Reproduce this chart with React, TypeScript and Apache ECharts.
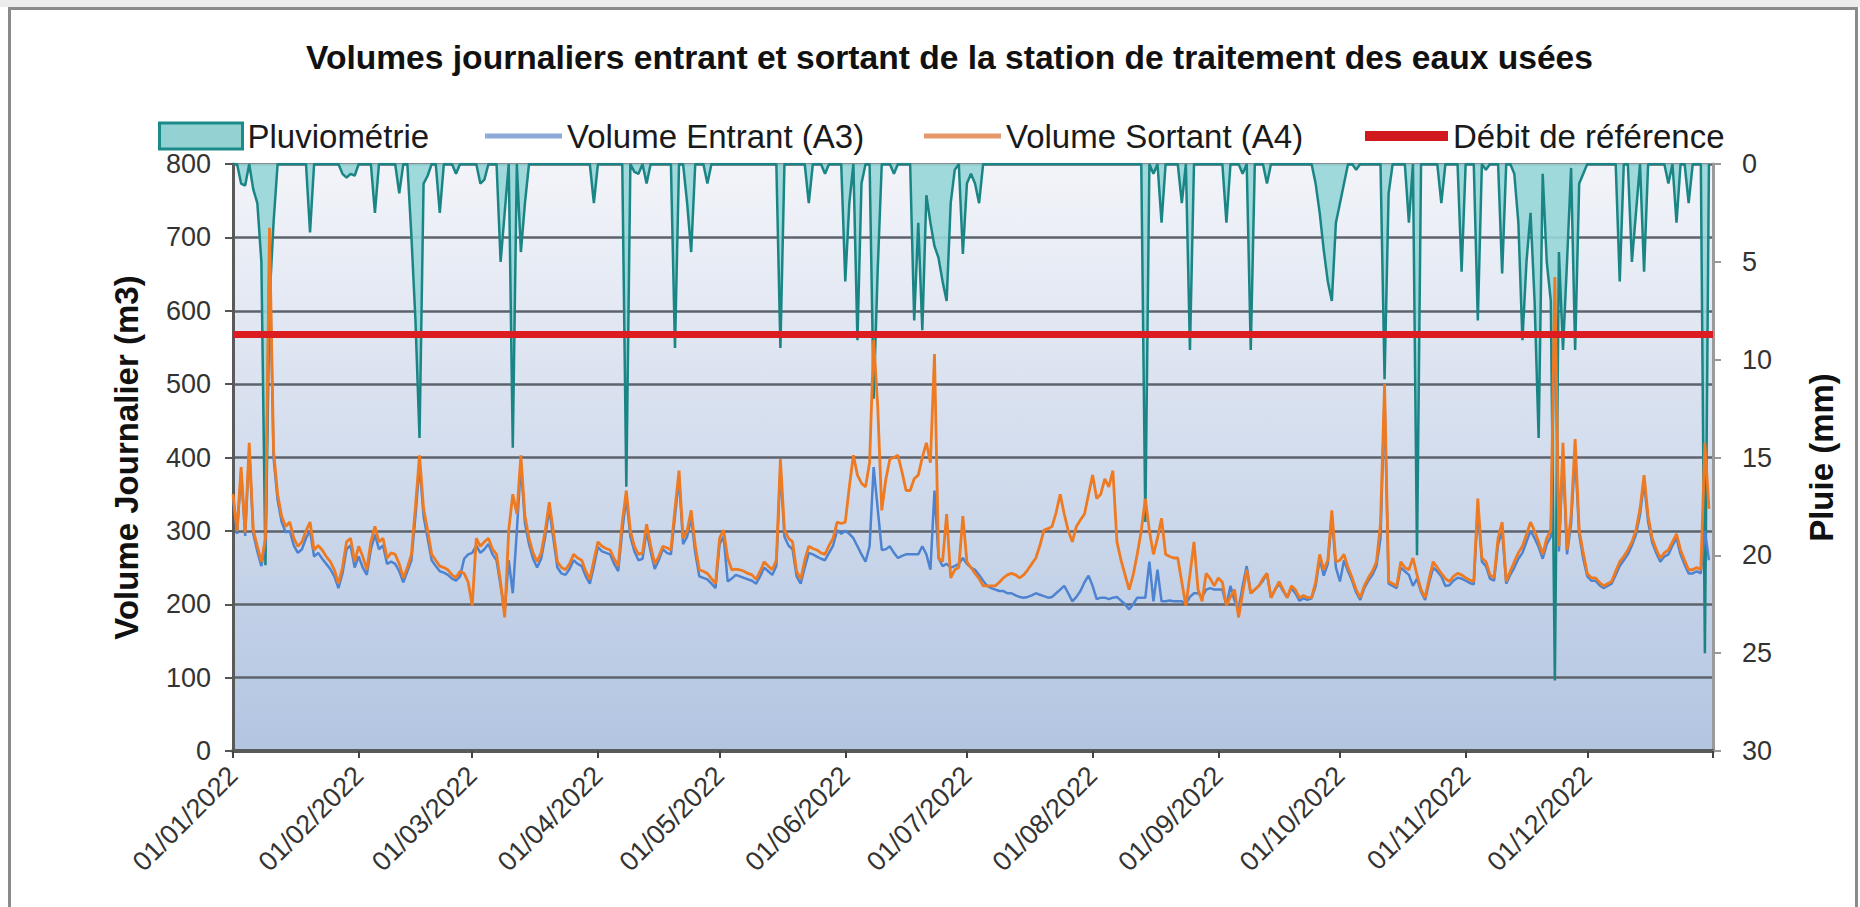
import React, { useEffect, useRef } from "react";
import * as echarts from "echarts";

const TITLE = "Volumes journaliers entrant et sortant de la station de traitement des eaux usées";
const YEAR = 2022;
const MONTH_DAYS = [31, 28, 31, 30, 31, 30, 31, 31, 30, 31, 30, 31];

// Volume Sortant (A4), m3 per day, one row per month
const volumeSortant: number[] = [
  350,300,387,298,420,301,279,258,290,713,409,350,320,306,312,290,279,285,300,312,274,280,274,265,258,247,228,250,285,290,258,
  279,265,247,285,306,285,290,263,270,268,255,236,250,268,333,403,330,301,268,260,252,250,247,240,236,245,242,230,
  198,290,279,285,290,275,268,230,182,301,350,323,403,320,290,270,258,270,300,339,300,258,250,247,255,268,263,260,245,234,260,
  285,279,276,274,262,252,312,355,300,279,268,270,309,280,255,265,279,277,274,330,382,290,300,328,280,247,245,242,235,228,
  290,301,263,247,248,247,245,242,240,234,245,258,252,247,260,398,301,290,285,245,234,260,279,276,274,270,268,280,290,312,310,
  312,360,403,376,365,360,393,560,470,328,370,398,400,403,380,355,355,371,376,400,420,393,541,263,258,323,236,247,250,320,
  258,250,242,235,225,225,225,225,230,236,240,242,240,236,240,247,255,263,280,301,303,306,325,350,323,300,285,306,315,323,350,
  376,344,350,371,360,382,285,260,240,220,240,268,300,344,300,268,290,317,268,265,263,263,230,198,240,285,220,204,242,235,225,
  236,230,198,210,220,182,215,247,215,220,225,235,242,209,220,231,220,209,225,220,209,212,209,209,230,268,247,260,328,258,
  260,268,250,236,220,209,225,236,245,258,310,500,231,228,225,258,250,247,263,240,220,209,235,258,250,242,235,231,238,242,240,
  236,233,231,344,263,258,240,236,290,312,231,245,258,270,279,295,312,300,285,268,290,301,646,279,420,274,320,425,301,270,
  242,236,236,230,225,228,231,245,258,265,274,285,301,330,376,320,290,275,263,270,274,285,296,274,260,247,247,250,247,420,330,
];

// Volume Entrant (A3), m3 per day, one row per month
const volumeEntrant: number[] = [
  345,296,380,293,410,296,272,252,282,690,400,342,312,298,300,280,270,275,290,300,265,270,262,255,248,238,222,242,275,280,250,
  265,250,240,275,295,275,280,255,258,255,245,230,245,260,320,390,320,290,260,252,245,243,240,235,232,238,262,268,
  270,280,270,275,282,268,260,225,190,260,215,300,390,310,282,262,250,262,292,330,290,250,242,240,248,260,255,252,238,228,252,
  278,272,270,268,255,245,300,345,292,272,260,262,300,272,248,260,275,270,268,320,372,282,292,318,270,238,236,234,228,222,
  282,292,231,235,240,238,236,234,232,228,238,250,245,240,252,385,292,280,275,238,228,250,270,268,265,262,260,270,280,301,296,
  300,296,290,279,268,258,279,387,330,274,275,279,270,263,266,268,268,268,268,279,268,247,355,263,252,255,250,252,255,263,
  255,250,247,240,232,225,222,220,218,218,215,215,212,210,209,210,212,215,213,211,209,210,215,220,225,215,204,210,218,230,239,
  225,207,209,209,207,209,210,205,200,193,200,209,209,209,258,204,247,204,204,205,204,204,204,200,210,215,215,210,220,222,220,
  220,220,198,225,205,193,225,252,215,220,225,232,242,209,220,228,218,209,222,215,205,208,206,208,225,262,239,255,318,250,
  231,260,245,232,216,206,222,232,240,252,290,480,228,225,222,250,245,240,225,235,217,206,230,250,245,238,225,226,232,236,235,
  232,229,227,330,258,252,235,232,282,300,228,240,250,262,270,285,300,290,278,262,282,292,600,272,400,268,310,405,295,262,
  238,232,232,226,222,225,228,240,252,260,268,280,295,322,366,312,284,270,258,265,268,280,290,268,254,242,242,245,242,300,260,
];

// Pluviométrie, mm per day, one row per month
const pluie: number[] = [
  0,0,1,1.1,0,1.3,2,5,20.5,7,3,0,0,0,0,0,0,0,0,3.5,0,0,0,0,0,0,0,0.5,0.7,0.5,0.6,
  0,0,0,0,2.5,0,0,0,0,0,1.5,0,0,3.7,8,14,1,0.6,0,0,2.5,0,0,0,0.5,0,0,0,
  0,0,1,0.8,0,0,0,5,2.5,0,14.5,0,4.5,2,0,0,0,0,0,0,0,0,0,0,0,0,0,0,0,0,2,
  0,0,0,0,0,0,0,16.5,0,0.4,0.5,0,1,0,0,0,0,0,0,9.4,0,0,2,4.5,0,0,0,1,0,0,
  0,0,0,0,0,0,0,0,0,0,0,0,0,0,0,9.4,0,0,0,0,0,0,2,0,0,0,0.5,0,0,0,0,
  6,2,0,9,1,0,0,12,5.4,0,0,0,0.5,0,0,0,0,8,3,8.5,1.6,3,4.2,4.8,6,7,2,0.3,0,4.6,
  1,0.5,1,2,0,0,0,0,0,0,0,0,0,0,0,0,0,0,0,0,0,0,0,0,0,0,0,0,0,0,0,
  0,0,0,0,0,0,0,0,0,0,0,0,0,18.3,0,0.5,0,3,0,0,0,0,2,0,9.5,0,0,0,0,0,0,
  0,0,3,0,0,0,0.5,0,9.5,0,0,0,1,0,0,0,0,0,0,0,0,0,0,0,1,2.5,4.4,6,7,3,
  2,1,0,0,0.3,0,0,0,0,0,0,11,1.5,0,0,0,0,3,0,20,0,0,0,0,0,2,0,0,0,0,5.5,
  0,0,0,8,0,0.3,0,0,0,5.6,0,0,0.5,3,9,5,2.5,7,14,0.5,5,7,26.4,4.5,9.5,5,0.2,9.5,1,0.5,
  0,0,0,0,0,0,0,0,6,0,0,5,2.5,0,5.5,0,0,0,0,0,1,0,3,0,0,2,0,0,0,25,0,
];

const DEBIT_REFERENCE = 568;

const SERIES_NAMES = ["Pluviométrie", "Volume Entrant (A3)", "Volume Sortant (A4)", "Débit de référence"];
const VOLUME_MAX = 800;
const VOLUME_STEP = 100;
const PLUIE_MAX = 30;
const PLUIE_STEP = 5;

const FONT = "'Liberation Sans', Arial, sans-serif";

function pad(n: number): string {
  return n < 10 ? "0" + n : String(n);
}

function buildDates(): string[] {
  const out: string[] = [];
  MONTH_DAYS.forEach((len, m) => {
    for (let d = 1; d <= len; d++) out.push(`${pad(d)}/${pad(m + 1)}/${YEAR}`);
  });
  out.push(`01/01/${YEAR + 1}`);
  return out;
}

export default function App() {
  const ref = useRef<HTMLDivElement>(null);

  useEffect(() => {
    document.body.style.margin = "0";
    if (!ref.current) return;
    const chart = echarts.init(ref.current, undefined, { renderer: "svg" });
    const dates = buildDates();
    const lastIndex = dates.length - 1;

    const legendText = { fontSize: 33, color: "#1a1a1a", fontFamily: FONT, lineHeight: 34 };
    const legendBase = { top: 119, selectedMode: false, padding: 0, textStyle: legendText };

    const option: any = {
      animation: false,
      backgroundColor: "#ffffff",
      textStyle: { fontFamily: FONT },
      title: {
        text: TITLE,
        left: 306,
        top: 40,
        padding: 0,
        textStyle: { fontSize: 33.6, fontWeight: "bold", color: "#111111", fontFamily: FONT },
      },
      legend: [
        {
          ...legendBase,
          left: 158,
          itemWidth: 83,
          itemHeight: 26,
          data: [
            {
              name: SERIES_NAMES[0],
              icon: "rect",
              itemStyle: { color: "#93d2d2", borderColor: "#1d8a8a", borderWidth: 3 },
            },
          ],
        },
        {
          ...legendBase,
          left: 485,
          itemWidth: 77,
          itemHeight: 5,
          data: [{ name: SERIES_NAMES[1], icon: "rect", itemStyle: { color: "#8eaad8" } }],
        },
        {
          ...legendBase,
          left: 924,
          itemWidth: 77,
          itemHeight: 5,
          data: [{ name: SERIES_NAMES[2], icon: "rect", itemStyle: { color: "#e3976a" } }],
        },
        {
          ...legendBase,
          left: 1365,
          itemWidth: 83,
          itemHeight: 10,
          data: [{ name: SERIES_NAMES[3], icon: "rect", itemStyle: { color: "#d0181e" } }],
        },
      ],
      grid: {
        left: 233,
        top: 164,
        width: 1480,
        height: 587,
        show: true,
        borderWidth: 0,
        backgroundColor: new echarts.graphic.LinearGradient(0, 0, 0, 1, [
          { offset: 0, color: "#f3f4f9" },
          { offset: 1, color: "#b2c5e1" },
        ]),
      },
      xAxis: {
        type: "category",
        data: dates,
        boundaryGap: false,
        axisLine: { show: true, lineStyle: { color: "#5a5a5a", width: 4 } },
        axisTick: {
          show: true,
          length: 7,
          interval: (i: number, v: string) => v.startsWith("01/"),
          lineStyle: { color: "#444444", width: 2 },
        },
        axisLabel: {
          interval: (i: number, v: string) => v.startsWith("01/") && i < lastIndex,
          rotate: 45,
          fontSize: 27,
          color: "#333333",
          margin: 20,
          fontFamily: FONT,
        },
        splitLine: { show: false },
      },
      yAxis: [
        {
          type: "value",
          min: 0,
          max: VOLUME_MAX,
          interval: VOLUME_STEP,
          name: "Volume Journalier (m3)",
          nameLocation: "middle",
          nameGap: 90,
          nameRotate: 90,
          nameTextStyle: { fontSize: 33, fontWeight: "bold", color: "#111111", fontFamily: FONT },
          axisLine: { show: true, lineStyle: { color: "#5a5a5a", width: 3 } },
          axisTick: { show: true, length: 8, lineStyle: { color: "#555555", width: 2 } },
          axisLabel: { fontSize: 27, color: "#333333", margin: 22, fontFamily: FONT },
          splitLine: { show: true, lineStyle: { color: "#5d636b", width: 2.5 } },
        },
        {
          type: "value",
          position: "right",
          inverse: true,
          min: 0,
          max: PLUIE_MAX,
          interval: PLUIE_STEP,
          name: "Pluie (mm)",
          nameLocation: "middle",
          nameGap: 92,
          nameRotate: 90,
          nameTextStyle: { fontSize: 33, fontWeight: "bold", color: "#111111", fontFamily: FONT },
          axisLine: { show: true, lineStyle: { color: "#9a9a9a", width: 3 } },
          axisTick: { show: true, length: 8, lineStyle: { color: "#999999", width: 2 } },
          axisLabel: { fontSize: 27, color: "#333333", margin: 29, fontFamily: FONT },
          splitLine: { show: false },
        },
      ],
      series: [
        {
          name: SERIES_NAMES[0],
          type: "line",
          yAxisIndex: 1,
          data: pluie,
          symbol: "none",
          lineStyle: { color: "#1b8585", width: 2.5 },
          itemStyle: { color: "#1b8585" },
          areaStyle: { color: "#97d6d8", opacity: 0.9 },
          z: 1,
        },
        {
          name: SERIES_NAMES[1],
          type: "line",
          yAxisIndex: 0,
          data: volumeEntrant,
          symbol: "none",
          lineStyle: { color: "#4d83d0", width: 2.5 },
          itemStyle: { color: "#4d83d0" },
          z: 2,
        },
        {
          name: SERIES_NAMES[2],
          type: "line",
          yAxisIndex: 0,
          data: volumeSortant,
          symbol: "none",
          lineStyle: { color: "#ee7a22", width: 2.8 },
          itemStyle: { color: "#ee7a22" },
          z: 3,
        },
        {
          name: SERIES_NAMES[3],
          type: "line",
          yAxisIndex: 0,
          data: [],
          symbol: "none",
          lineStyle: { color: "#dd1c22" },
          itemStyle: { color: "#dd1c22" },
          z: 4,
          markLine: {
            silent: true,
            symbol: ["none", "none"],
            label: { show: false },
            lineStyle: { color: "#dd1c22", width: 7, type: "solid" },
            data: [{ yAxis: DEBIT_REFERENCE }],
          },
        },
      ],
      graphic: [
        { type: "rect", shape: { x: 0, y: 0, width: 1860, height: 7 }, style: { fill: "#ececec" }, silent: true },
        {
          type: "rect",
          shape: { x: 9.5, y: 8.5, width: 1847, height: 1000 },
          style: { fill: "none", stroke: "#8a8a8a", lineWidth: 3 },
          silent: true,
        },
      ],
    };

    chart.setOption(option);
    return () => chart.dispose();
  }, []);

  return <div ref={ref} style={{ width: 1860, height: 907 }} />;
}
